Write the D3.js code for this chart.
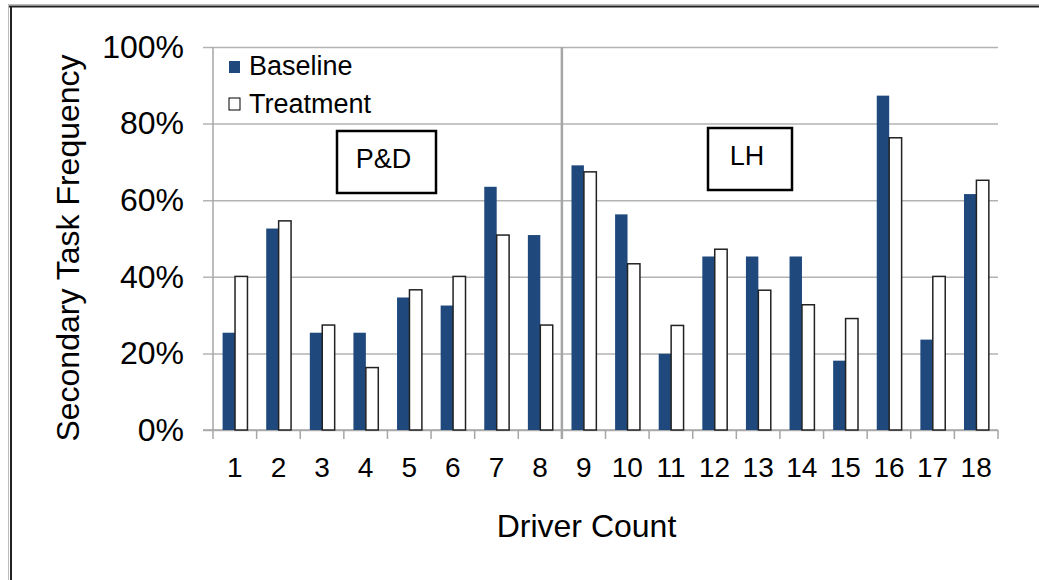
<!DOCTYPE html>
<html>
<head>
<meta charset="utf-8">
<script src="https://cdn.jsdelivr.net/npm/d3@7"></script>
<style>
  body { margin: 0; background: #fff; }
  text { font-family: "Liberation Sans", Arial, sans-serif; fill: #000; }
</style>
</head>
<body>
<div id="chart"></div>
<script>
const width = 1039;
const height = 580;

// datos
const drivers = ["1", "2", "3", "4", "5", "6", "7", "8", "9", "10", "11", "12", "13", "14", "15", "16", "17", "18"];
const series = ["Baseline", "Treatment"];
const baseline = [25.4, 52.6, 25.4, 25.4, 34.6, 32.5, 63.5, 50.9, 69.1, 56.3, 19.9, 45.3, 45.3, 45.3, 18.1, 87.3, 23.6, 61.6];
const treatment = [40.1, 54.6, 27.4, 16.3, 36.6, 40.1, 50.9, 27.4, 67.4, 43.4, 27.3, 47.2, 36.5, 32.7, 29.1, 76.3, 40.1, 65.2];
const yTicks = [0, 20, 40, 60, 80, 100];
const groups = [
  { label: "P&D", from: "1", to: "8" },
  { label: "LH", from: "9", to: "18" }
];

const data = drivers.map((d, i) => ({ driver: d, Baseline: baseline[i], Treatment: treatment[i] }));

const plot = { left: 213, right: 998, top: 47, bottom: 430 };

const svg = d3.select("#chart").append("svg")
  .attr("width", width)
  .attr("height", height);

// marco de la captura (arriba e izquierda)
svg.append("line").attr("x1", 8).attr("x2", width).attr("y1", 4.5).attr("y2", 4.5)
  .attr("stroke", "#bbb").attr("stroke-width", 1);
svg.append("line").attr("x1", 8).attr("x2", width).attr("y1", 6.5).attr("y2", 6.5)
  .attr("stroke", "#222").attr("stroke-width", 2);
svg.append("line").attr("x1", 8.5).attr("x2", 8.5).attr("y1", 4).attr("y2", height)
  .attr("stroke", "#bbb").attr("stroke-width", 1);
svg.append("line").attr("x1", 11).attr("x2", 11).attr("y1", 6).attr("y2", height)
  .attr("stroke", "#222").attr("stroke-width", 2);

const xScale = d3.scaleBand().domain(drivers).range([plot.left, plot.right]).padding(0);
const bw = xScale.bandwidth();
const xSub = d3.scaleBand().domain(series).range([bw * 0.22, bw * 0.79]);
const yScale = d3.scaleLinear().domain([0, 100]).range([plot.bottom, plot.top]);
const colors = { Baseline: "#1f497d", Treatment: "#ffffff" };

// lineas de la grilla + eje Y
const yAxis = d3.axisLeft(yScale).tickValues(yTicks).tickFormat(d => d + "%")
  .tickSize(plot.right - plot.left + 10).tickPadding(20);
const yAxisG = svg.append("g").attr("transform", "translate(" + plot.right + ",0)").call(yAxis);
yAxisG.select(".domain").remove();
yAxisG.selectAll(".tick line").attr("stroke", "#b3b3b3").attr("stroke-width", 1.5);
yAxisG.selectAll(".tick text")
  .attr("x", -(plot.right - plot.left) - 29)
  .style("font-size", "32px").attr("fill", "#000");

// eje X
const xAxis = d3.axisBottom(xScale).tickSize(0).tickPadding(27);
const xAxisG = svg.append("g").attr("transform", "translate(0," + plot.bottom + ")").call(xAxis);
xAxisG.select(".domain").remove();
xAxisG.selectAll(".tick text").style("font-size", "28px").attr("fill", "#000");

// marcas entre categorias
svg.append("g").selectAll("line")
  .data(drivers.concat(["end"]))
  .enter().append("line")
  .attr("x1", (d, i) => plot.left + i * bw)
  .attr("x2", (d, i) => plot.left + i * bw)
  .attr("y1", plot.bottom)
  .attr("y2", plot.bottom + 9)
  .attr("stroke", "#a6a6a6").attr("stroke-width", 1.5);

svg.append("line")
  .attr("x1", plot.left).attr("x2", plot.left)
  .attr("y1", plot.top).attr("y2", plot.bottom)
  .attr("stroke", "#a6a6a6").attr("stroke-width", 1.5);
svg.append("line")
  .attr("x1", plot.left - 10).attr("x2", plot.right)
  .attr("y1", plot.bottom).attr("y2", plot.bottom)
  .attr("stroke", "#a6a6a6").attr("stroke-width", 1.5);

// separador P&D / LH
const sepX = xScale("9");
svg.append("line")
  .attr("x1", sepX).attr("x2", sepX)
  .attr("y1", plot.top).attr("y2", plot.bottom + 9)
  .attr("stroke", "#a6a6a6").attr("stroke-width", 2.5);

// barras
const groupsG = svg.append("g").selectAll("g")
  .data(data)
  .enter().append("g")
  .attr("transform", d => "translate(" + xScale(d.driver) + ",0)");

groupsG.selectAll("rect")
  .data(d => series.map(s => ({ key: s, value: d[s] })))
  .enter().append("rect")
  .attr("x", d => xSub(d.key))
  .attr("y", d => yScale(d.value))
  .attr("width", xSub.bandwidth())
  .attr("height", d => yScale(0) - yScale(d.value))
  .attr("fill", d => colors[d.key])
  .attr("stroke", d => d.key === "Treatment" ? "#222" : "none")
  .attr("stroke-width", 1.5);

// leyenda
const legend = svg.append("g").attr("transform", "translate(229,0)");
const legendRows = [{ key: "Baseline", y: 61, ty: 75 }, { key: "Treatment", y: 98, ty: 113 }];
legendRows.forEach(r => {
  legend.append("rect").attr("x", 0).attr("y", r.y).attr("width", 11).attr("height", 12)
    .attr("fill", colors[r.key])
    .attr("stroke", r.key === "Treatment" ? "#000" : "none").attr("stroke-width", 1);
  legend.append("text").attr("x", 20).attr("y", r.ty).text(r.key).style("font-size", "27px");
});

// cajas de grupo
const boxes = [
  { label: "P&D", x: 337, y: 131, w: 99, h: 62 },
  { label: "LH", x: 708, y: 128, w: 84, h: 62 }
];
groups.forEach((g, i) => {
  const b = boxes[i];
  svg.append("rect").attr("x", b.x).attr("y", b.y).attr("width", b.w).attr("height", b.h)
    .attr("fill", "#fff").attr("stroke", "#000").attr("stroke-width", 2.5);
  svg.append("text").attr("x", b.x + b.w / 2 - 3).attr("y", b.y + b.h / 2 + 6)
    .attr("text-anchor", "middle").text(g.label).style("font-size", "27px");
});

// titulos de ejes
svg.append("text")
  .attr("x", (plot.left + plot.right) / 2 - 19)
  .attr("y", 537)
  .attr("text-anchor", "middle")
  .text("Driver Count")
  .style("font-size", "32px");

svg.append("text")
  .attr("transform", "translate(79,248) rotate(-90)")
  .attr("text-anchor", "middle")
  .text("Secondary Task Frequency")
  .style("font-size", "32px");
</script>
</body>
</html>
